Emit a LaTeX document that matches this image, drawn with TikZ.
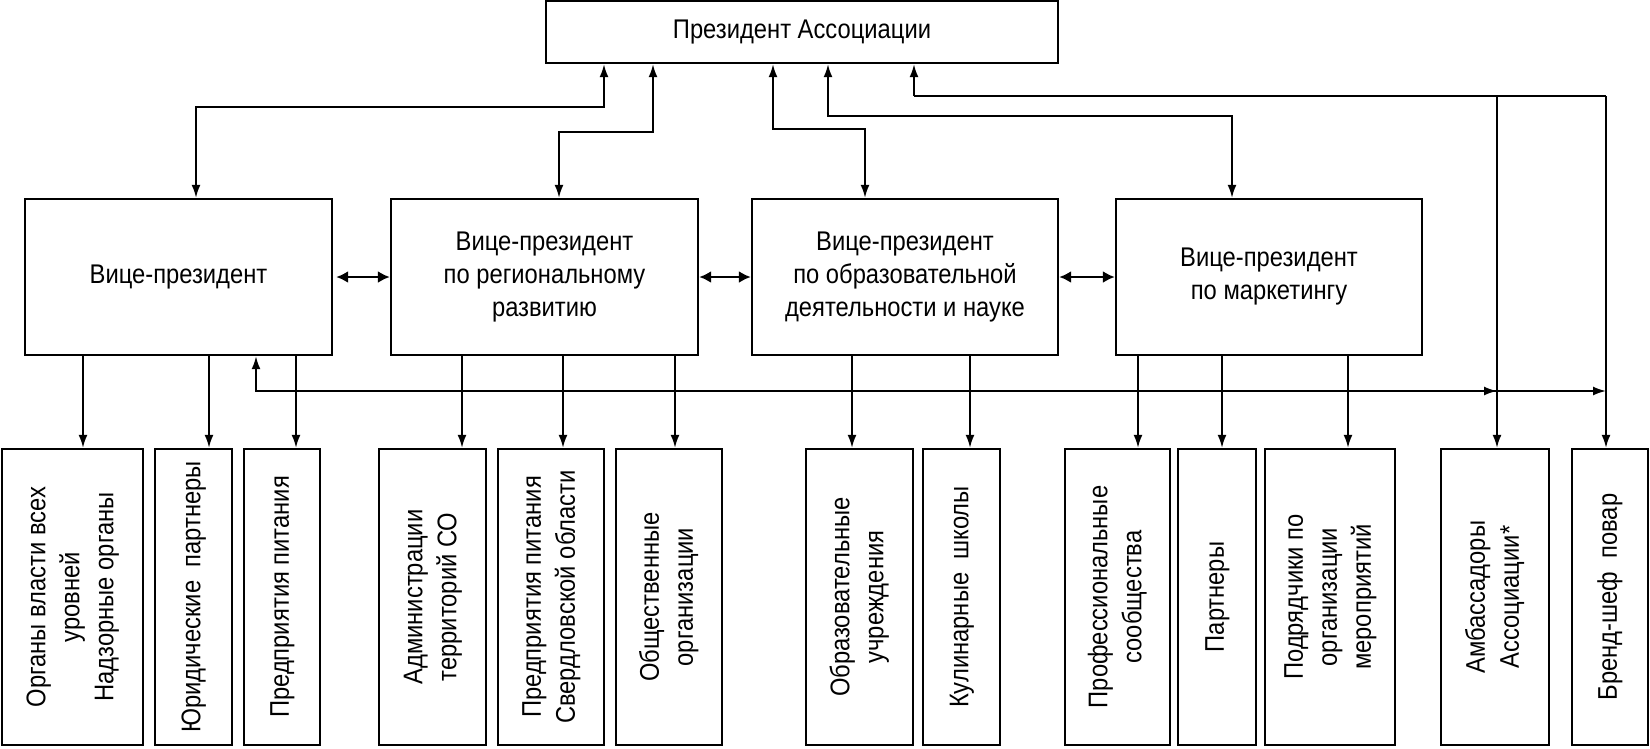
\documentclass[tikz,border=0pt]{standalone}
\usepackage{fontspec}
\setmainfont{Liberation Sans}
\newfontfamily\narrowfont[FakeStretch=0.88]{Liberation Sans}
\usetikzlibrary{arrows.meta}

\newcommand{\vlabel}[1]{\rotatebox{90}{\begin{tabular}{@{}c@{}}#1\end{tabular}}}

\tikzset{
  headbox/.style={draw, line width=2.4pt, inner sep=0pt, align=center, font=\narrowfont\fontsize{27}{33}\selectfont},
  unitbox/.style={draw, line width=2.4pt, inner sep=0pt, minimum height=296pt, font=\narrowfont\fontsize{27}{34}\selectfont},
  link/.style={line width=1.8pt, -{Latex[length=13pt,width=9pt]}},
  twolink/.style={line width=1.8pt, {Latex[length=13pt,width=9pt]}-{Latex[length=13pt,width=9pt]}},
  sidelink/.style={line width=2.2pt, {Latex[length=12pt,width=12pt]}-{Latex[length=12pt,width=12pt]}},
}

\begin{document}
\begin{tikzpicture}[x=1pt, y=-1pt]
        \fill[white] (0,0) rectangle (1650,748);
        \useasboundingbox (0,0) rectangle (1650,748);

        % president and vice-presidents
        \node[headbox, minimum width=512pt, minimum height=62pt] (pres) at (802,32) {Президент Ассоциации};
        \node[headbox, minimum width=307pt, minimum height=156pt] (vp1) at (178.5,277) {Вице-президент};
        \node[headbox, minimum width=307pt, minimum height=156pt] (vp2) at (544.5,277) {Вице-президент\\по региональному\\развитию};
        \node[headbox, minimum width=306pt, minimum height=156pt] (vp3) at (905,277) {Вице-президент\\по образовательной\\деятельности и науке};
        \node[headbox, minimum width=306pt, minimum height=156pt] (vp4) at (1269,277) {Вице-президент\\по маркетингу};

        % lower row
        \node[unitbox, minimum width=141pt] (b1) at (72.5,597) {\vlabel{Органы власти всех\\уровней\\Надзорные органы}};
        \node[unitbox, minimum width=77pt] (b2) at (193.5,597) {\vlabel{Юридические\ \ партнеры}};
        \node[unitbox, minimum width=76pt] (b3) at (282,597) {\vlabel{Предприятия питания}};
        \node[unitbox, minimum width=107pt] (b4) at (432.5,597) {\vlabel{Администрации\\территорий СО}};
        \node[unitbox, minimum width=106pt] (b5) at (551,597) {\vlabel{Предприятия питания\\Свердловской области}};
        \node[unitbox, minimum width=106pt] (b6) at (669,597) {\vlabel{Общественные\\организации}};
        \node[unitbox, minimum width=107pt] (b7) at (859.5,597) {\vlabel{Образовательные\\учреждения}};
        \node[unitbox, minimum width=77pt] (b8) at (961.5,597) {\vlabel{Кулинарные\ \ школы}};
        \node[unitbox, minimum width=105pt] (b9) at (1117.5,597) {\vlabel{Профессиональные\\сообщества}};
        \node[unitbox, minimum width=78pt] (b10) at (1217,597) {\vlabel{Партнеры}};
        \node[unitbox, minimum width=130pt] (b11) at (1330,597) {\vlabel{Подрядчики по\\организации\\мероприятий}};
        \node[unitbox, minimum width=108pt] (b12) at (1495,597) {\vlabel{Амбассадоры\\Ассоциации*}};
        \node[unitbox, minimum width=76pt] (b13) at (1610,597) {\vlabel{Бренд-шеф\ \ повар}};

        % links to the president
        \draw[twolink] (196,0 |- vp1.north) -- (196,107) -| (604,0 |- pres.south);
        \draw[twolink] (559,0 |- vp2.north) -- (559,132) -| (653,0 |- pres.south);
        \draw[twolink] (865,0 |- vp3.north) -- (865,129) -| (773,0 |- pres.south);
        \draw[twolink] (1232,0 |- vp4.north) -- (1232,116) -| (828,0 |- pres.south);
        \draw[link] (914,96) -- (914,0 |- pres.south);
        \draw[line width=1.8pt] (914,96) -- (1606,96);
        \draw[link] (1497,96) -- (1497,0 |- b12.north);
        \draw[link] (1606,96) -- (1606,0 |- b13.north);

        % between vice-presidents
        \draw[sidelink] ([xshift=3pt]vp1.east) -- (vp2.west);
        \draw[sidelink] (vp2.east) -- (vp3.west);
        \draw[sidelink] (vp3.east) -- (vp4.west);

        % down to the lower row
        \draw[link] (83,0 |- vp1.south) -- (83,0 |- b1.north);
        \draw[link] (209,0 |- vp1.south) -- (209,0 |- b2.north);
        \draw[link] (296,0 |- vp1.south) -- (296,0 |- b3.north);
        \draw[link] (462,0 |- vp2.south) -- (462,0 |- b4.north);
        \draw[link] (563,0 |- vp2.south) -- (563,0 |- b5.north);
        \draw[link] (675,0 |- vp2.south) -- (675,0 |- b6.north);
        \draw[link] (852,0 |- vp3.south) -- (852,0 |- b7.north);
        \draw[link] (970,0 |- vp3.south) -- (970,0 |- b8.north);
        \draw[link] (1138,0 |- vp4.south) -- (1138,0 |- b9.north);
        \draw[link] (1222,0 |- vp4.south) -- (1222,0 |- b10.north);
        \draw[link] (1348,0 |- vp4.south) -- (1348,0 |- b11.north);

        % back line to the first vice-president
        \draw[twolink] (256,0 |- vp1.south) -- (256,391) -- (1606,391);
        \draw[link] (1400,391) -- (1497,391);

\end{tikzpicture}
\end{document}
